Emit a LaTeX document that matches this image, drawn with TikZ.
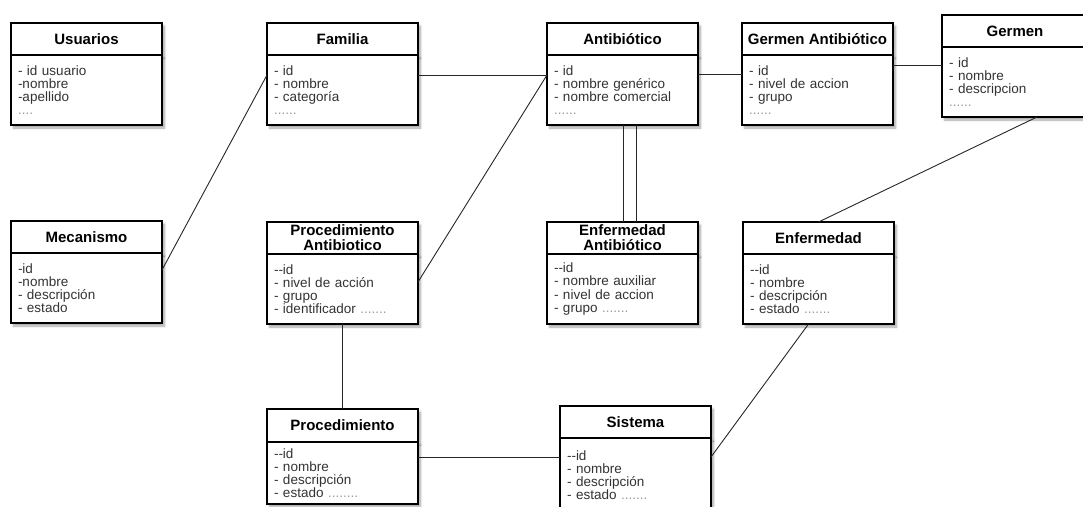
\documentclass[tikz,border=0pt]{standalone}
\usepackage{fontspec}
\setmainfont{Liberation Sans}
\usetikzlibrary{positioning, shadows.blur}
\definecolor{attrgray}{HTML}{333333}
\definecolor{dotgray}{HTML}{9A9A9A}
\newcommand{\moredots}[1]{{\color{dotgray}#1}}

\begin{document}
\begin{tikzpicture}[
    x=1pt, y=-1pt,
    boxshadow/.style={blur shadow={shadow xshift=2.5pt, shadow yshift=-3pt, shadow blur steps=6, shadow opacity=35}},
    classhead/.style={rectangle, draw=black, line width=1.2pt, fill=white, outer sep=0pt, minimum width=151pt, minimum height=32pt, inner ysep=1pt, align=center, font=\fontsize{15}{15}\selectfont\bfseries, boxshadow},
    classbody/.style={rectangle, draw=black, line width=1.2pt, fill=white, outer sep=0pt, minimum height=70pt, text width=137pt, inner xsep=7pt, align=left, text=attrgray, font=\fontsize{13.5}{13.2}\selectfont, boxshadow},
    link/.style={draw=black!85, line width=0.9pt}
]
\useasboundingbox (0,0) rectangle (1083,506);

\node (usu-h) [classhead, anchor=north west] at (11,23) {Usuarios};
\node (usu) [classbody, below=0pt of usu-h] {- id usuario\\-nombre\\-apellido\\\moredots{....}};

\node (fam-h) [classhead, anchor=north west] at (267,23) {Familia};
\node (fam) [classbody, below=0pt of fam-h] {- id\\- nombre\\- categoría\\\moredots{......}};

\node (anti-h) [classhead, anchor=north west] at (547,23) {Antibiótico};
\node (anti) [classbody, below=0pt of anti-h] {- id\\- nombre genérico\\- nombre comercial\\\moredots{......}};

\node (gerant-h) [classhead, anchor=north west] at (742,23) {Germen Antibiótico};
\node (gerant) [classbody, below=0pt of gerant-h] {- id\\- nivel de accion\\- grupo\\\moredots{......}};

\node (germ-h) [classhead, anchor=north west, minimum width=146pt] at (942,15) {Germen};
\node (germ) [classbody, below=0pt of germ-h, text width=132pt] {- id\\- nombre\\- descripcion\\\moredots{......}};

\node (mec-h) [classhead, anchor=north west] at (11,221) {Mecanismo};
\node (mec) [classbody, below=0pt of mec-h] {-id\\-nombre\\- descripción\\- estado};

\node (procant-h) [classhead, anchor=north west] at (267,222) {Procedimiento\\Antibiotico};
\node (procant) [classbody, below=0pt of procant-h] {-{}-id\\- nivel de acción\\- grupo\\- identificador \moredots{.......}};

\node (enfant-h) [classhead, anchor=north west] at (547,222) {Enfermedad\\Antibiótico};
\node (enfant) [classbody, below=0pt of enfant-h] {-{}-id\\- nombre auxiliar\\- nivel de accion\\- grupo \moredots{.......}};

\node (enf-h) [classhead, anchor=north west] at (743,222) {Enfermedad};
\node (enf) [classbody, below=0pt of enf-h] {-{}-id\\- nombre\\- descripción\\- estado \moredots{.......}};

\node (proc-h) [classhead, anchor=north west, minimum height=33pt] at (267,409) {Procedimiento};
\node (proc) [classbody, below=0pt of proc-h, minimum height=62pt] {-{}-id\\- nombre\\- descripción\\- estado \moredots{........}};

\node (sis-h) [classhead, anchor=north west] at (560,406) {Sistema};
\node (sis) [classbody, below=0pt of sis-h, minimum height=74pt] {-{}-id\\- nombre\\- descripción\\- estado \moredots{.......}};

\draw [link] ([yshift=18pt]mec.east) -- ([yshift=15pt]fam.west);
\draw [link] ([yshift=15pt]fam.east) -- ([yshift=15pt]fam.east -| anti.west);
\draw [link] ([yshift=7pt]procant.east) -- ([yshift=15pt]anti.west);
\draw [link] ([yshift=16pt]anti.east) -- ([yshift=16pt]anti.east -| gerant.west);
\draw [link] ([yshift=25pt]gerant.east) -- ([yshift=25pt]gerant.east -| germ.west);
\draw [link] ([xshift=1pt]anti.south) -- ([xshift=1pt]enfant-h.north);
\draw [link] ([xshift=14pt]anti.south) -- ([xshift=14pt]enfant-h.north);
\draw [link] ([xshift=22pt]germ.south) -- (enf-h.north);
\draw [link] (procant.south) -- (proc-h.north);
\draw [link] ([yshift=16pt]proc.east) -- ([yshift=16pt]proc.east -| sis.west);
\draw [link] ([yshift=18pt]sis.east) -- ([xshift=-10pt]enf.south);

\end{tikzpicture}
\end{document}
